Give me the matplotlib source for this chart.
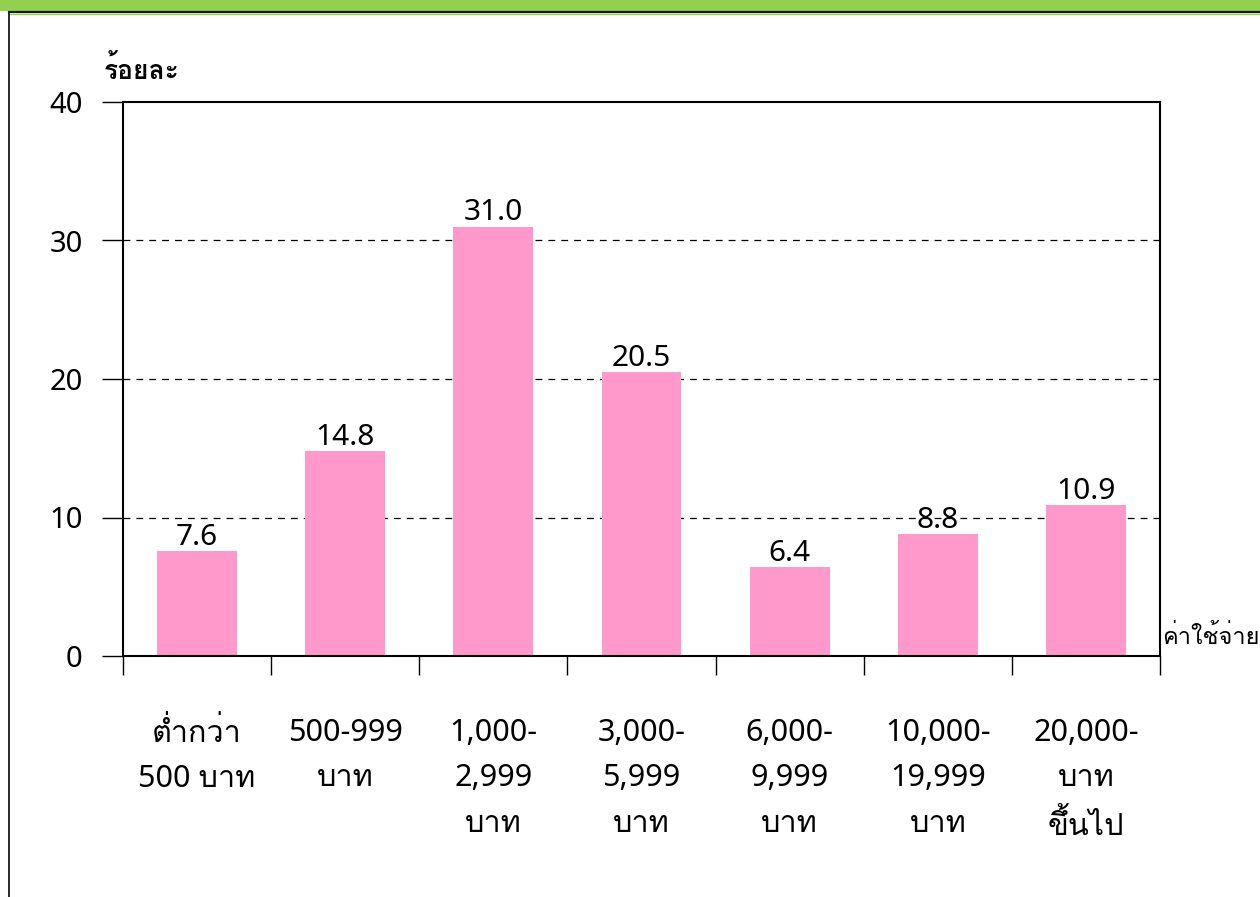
import matplotlib
matplotlib.use("Agg")
import matplotlib.pyplot as plt
from matplotlib import font_manager
from matplotlib.ft2font import FT2Font
from matplotlib.patches import Rectangle
from matplotlib.lines import Line2D

# ---- data ----
categories = ["ต่ำกว่า\n500 บาท", "500-999\nบาท", "1,000-\n2,999\nบาท", "3,000-\n5,999\nบาท",
              "6,000-\n9,999\nบาท", "10,000-\n19,999\nบาท", "20,000-\nบาท\nขึ้นไป"]
values = [7.6, 14.8, 31.0, 20.5, 6.4, 8.8, 10.9]
y_ticks = [0, 10, 20, 30, 40]
y_title = "ร้อยละ"
x_title = "ค่าใช้จ่าย"

# ---- find a font with Thai glyphs ----
def find_thai_font():
    preferred = ["Tahoma", "Loma", "Garuda", "Norasi", "Sarabun", "Noto Sans Thai", "Noto Sans Thai UI",
                 "Waree", "Kinnari", "Umpush", "Laksaman", "Sawasdee", "Tlwg Typo", "Noto Serif Thai"]
    found = {}
    for f in font_manager.fontManager.ttflist:
        try:
            cm = FT2Font(f.fname).get_charmap()
        except Exception:
            continue
        if 0x0E01 in cm and 0x0E32 in cm:
            found.setdefault(f.name, f.fname)
    for p in preferred:
        if p in found:
            return p
    if found:
        return sorted(found)[0]
    return None

thai = find_thai_font()
thai_first = ([thai] if thai else []) + ["DejaVu Sans"]
latin_first = ["Noto Sans"] + ([thai] if thai else []) + ["DejaVu Sans"]
plt.rcParams['font.family'] = latin_first

W, H = 1260, 897
dpi = 100
fig = plt.figure(figsize=(W / dpi, H / dpi), dpi=dpi)

# top green band and frame lines
fig.patches.append(Rectangle((0, 1 - 11 / H), 1, 11 / H, transform=fig.transFigure,
                             facecolor="#92D050", edgecolor="none", zorder=0))
fig.lines.append(Line2D([9 / W, 1], [1 - 12.5 / H, 1 - 12.5 / H], transform=fig.transFigure,
                        color="#1a1a1a", lw=1.6))
fig.lines.append(Line2D([9 / W, 1], [1 - 14.5 / H, 1 - 14.5 / H], transform=fig.transFigure,
                        color="#92D050", lw=1.0))
fig.lines.append(Line2D([9 / W, 9 / W], [0, 1 - 12.5 / H], transform=fig.transFigure,
                        color="#1a1a1a", lw=1.3))

left, right, top, bottom = 123, 1160, 102, 656
ax = fig.add_axes([left / W, 1 - bottom / H, (right - left) / W, (bottom - top) / H])

x = list(range(len(values)))
ax.bar(x, values, width=0.54, color="#FF99CC", zorder=2)
ax.set_xlim(-0.5, len(values) - 0.5)
ax.set_ylim(0, 40)
ax.set_yticks(y_ticks)
ax.set_yticklabels([str(t) for t in y_ticks], fontsize=21)
ax.tick_params(axis='y', length=15, width=1.0, pad=14, direction='out')

for yv in y_ticks[1:-1]:
    ax.axhline(yv, color="black", lw=0.9, ls=(0, (5.5, 4.8)), zorder=1)

for xi, v in zip(x, values):
    ax.text(xi, v + 0.45, f"{v:.1f}", ha="center", va="baseline", fontsize=21.5, zorder=4)

# category boundaries ticks
ax.set_xticks([i - 0.5 for i in range(len(values) + 1)])
ax.set_xticklabels([])
ax.tick_params(axis='x', length=14, width=1.0, direction='out')

for xi, lab in zip(x, categories):
    ax.text(xi, -4.45, lab, ha="center", va="top", fontsize=22,
            linespacing=1.68, transform=ax.transData)

for s in ax.spines.values():
    s.set_linewidth(1.5)
    s.set_color("black")

fig.text(104 / W, 1 - 70 / H, y_title, ha="left", va="center", fontsize=19, fontweight="bold",
         family=thai_first)
fig.text(1162 / W, 1 - 637 / H, x_title, ha="left", va="center", fontsize=17,
         family=thai_first)

fig.savefig("out.png", dpi=dpi)
